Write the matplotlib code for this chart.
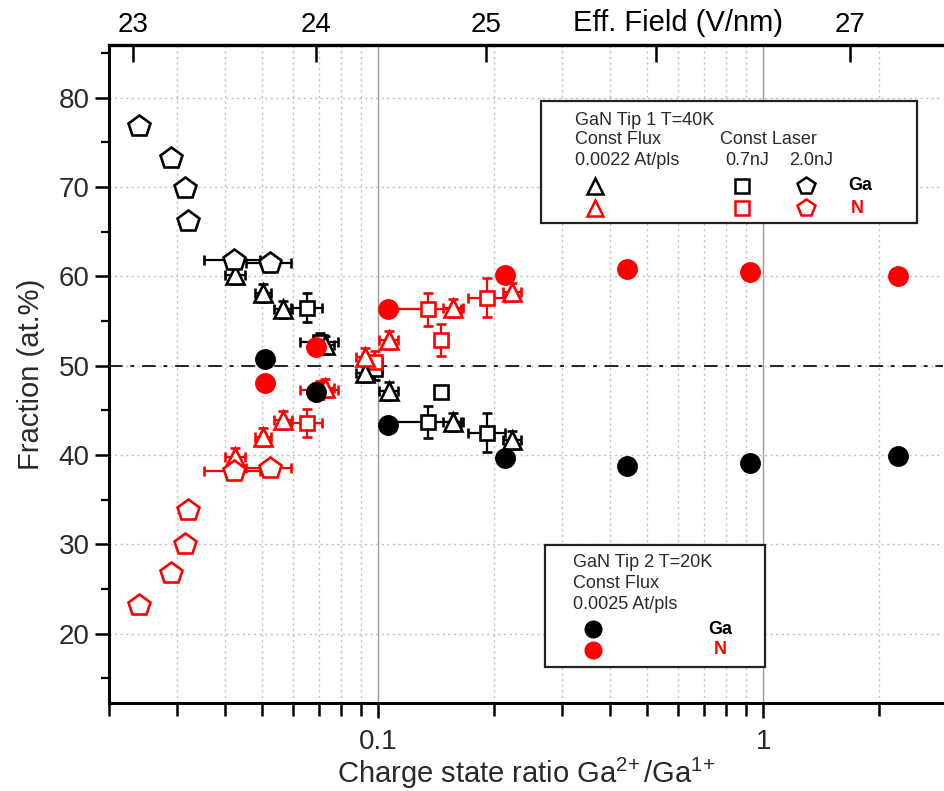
import numpy as np
import matplotlib
matplotlib.use("Agg")
import matplotlib.pyplot as plt
from matplotlib.patches import Rectangle
from matplotlib.ticker import (FixedLocator, FixedFormatter, NullFormatter,
                               NullLocator, LogLocator, MultipleLocator)

plt.rcParams['font.family'] = ['Liberation Sans', 'DejaVu Sans']
plt.rcParams['mathtext.fontset'] = 'custom'
plt.rcParams['mathtext.rm'] = 'Liberation Sans'
plt.rcParams['mathtext.it'] = 'Liberation Sans:italic'
plt.rcParams['mathtext.bf'] = 'Liberation Sans:bold'

nan = np.nan

# GaN tip 1, T = 40 K, constant flux 0.0022 At/pls (triangles)
flux_ratio = [0.0425, 0.0503, 0.0566, 0.0728, 0.0925, 0.1068, 0.1566, 0.2228]
flux_ga = [60.2, 58.1, 56.3, 52.3, 49.2, 47.2, 43.7, 41.7]
flux_n = [39.8, 42.0, 43.9, 47.5, 51.0, 52.9, 56.5, 58.3]
flux_xerr = [0.0025, 0.0025, 0.003, 0.004, 0.005, 0.006, 0.009, 0.012]
flux_yerr = [1.0, 1.0, 1.0, 1.0, 1.0, 1.0, 1.0, 1.0]

# GaN tip 1, constant laser energy 0.7 nJ (squares)
l07_ratio = [0.0654, 0.0707, 0.0982, 0.1349, 0.1458, 0.192]
l07_ga = [56.5, 52.7, 49.6, 43.7, 47.1, 42.5]
l07_n = [43.6, 47.3, 50.4, 56.3, 52.9, 57.6]
l07_xerr = [0.006, 0.008, 0.004, 0.029, nan, 0.021]
l07_ga_yerr = [1.6, 1.0, 1.2, 1.8, nan, 2.2]
l07_n_yerr = [1.6, 1.0, 1.2, 1.8, 1.8, 2.2]

# GaN tip 1, constant laser energy 2.0 nJ (pentagons)
l20_ratio = [0.0239, 0.0290, 0.0315, 0.0321, 0.0423, 0.0524]
l20_ga = [76.8, 73.2, 69.9, 66.2, 61.8, 61.5]
l20_n = [23.2, 26.8, 30.1, 33.8, 38.2, 38.5]
l20_xerr = [nan, nan, nan, nan, 0.007, 0.007]
l20_yerr = [0.6, 0.6, 0.6, 0.6, 0.6, 0.6]

# GaN tip 2, T = 20 K, constant flux 0.0025 At/pls (filled circles)
tip2_ratio = [0.0508, 0.069, 0.106, 0.214, 0.444, 0.925, 2.24]
tip2_ga = [50.8, 47.1, 43.4, 39.7, 38.8, 39.1, 39.9]
tip2_n = [48.1, 52.1, 56.3, 60.2, 60.8, 60.5, 60.0]

# effective field scale on the top axis
field_values = [23, 24, 25, 26, 27]
field_ratio = [0.0231, 0.0690, 0.1908, 0.527, 1.683]
field_labels = ['23', '24', '25', '', '27']

RED = '#ff0000'
BLK = '#000000'
TXT = '#2a2a2a'

fig = plt.figure(figsize=(9.44, 7.91), dpi=100)
ax = fig.add_axes([109 / 944, 88 / 791, 834 / 944, 658 / 791])
ax.set_xscale('log')
ax.set_xlim(0.02, 2.93)
ax.set_ylim(12.25, 85.9)

# ticks and grid
ax.xaxis.set_major_locator(FixedLocator([0.1, 1]))
ax.xaxis.set_minor_locator(LogLocator(base=10, subs=np.arange(2, 10)))
ax.xaxis.set_major_formatter(FixedFormatter(['0.1', '1']))
ax.xaxis.set_minor_formatter(NullFormatter())
ax.yaxis.set_major_locator(MultipleLocator(10))
ax.yaxis.set_minor_locator(MultipleLocator(5))
ax.grid(True, which='major', axis='x', color='#9a9a9a', lw=1.0, ls='-', zorder=0)
ax.grid(True, which='minor', axis='x', color='#c0c0c0', lw=1.0, ls=(0, (1.5, 2.5)), zorder=0)
ax.grid(True, which='major', axis='y', color='#c0c0c0', lw=1.0, ls=(0, (1.5, 2.5)), zorder=0)
ax.set_axisbelow(True)
ax.axhline(50, color='#222222', lw=1.4, ls=(0, (7, 4, 2, 4)), zorder=1)

for s in ['right', 'top']:
    ax.spines[s].set_visible(False)
ax.spines['left'].set_linewidth(2.2)
ax.spines['bottom'].set_linewidth(2.2)
ax.tick_params(axis='x', which='major', direction='out', length=11, width=1.8,
               labelsize=20, pad=8, labelcolor=TXT)
ax.tick_params(axis='x', which='minor', direction='out', length=9, width=1.8)
ax.tick_params(axis='y', which='major', direction='out', length=10, width=1.8,
               labelsize=20, pad=4, labelcolor=TXT)
ax.tick_params(axis='y', which='minor', direction='out', length=6, width=1.6)

ax.set_ylabel('Fraction (at.%)', fontsize=21, color=TXT)
ax.yaxis.set_label_coords(-0.077, 0.5)
ax.set_xlabel(r'Charge state ratio $\mathregular{Ga^{2\!+}/Ga^{1\!+}}$',
              fontsize=21, color=TXT)
ax.xaxis.set_label_coords(0.5, -0.08)

# top axis: effective field
ax2 = ax.twiny()
ax2.set_xscale('log')
ax2.set_xlim(ax.get_xlim())
ax2.xaxis.set_major_locator(FixedLocator(field_ratio))
ax2.xaxis.set_major_formatter(FixedFormatter(field_labels))
ax2.xaxis.set_minor_locator(NullLocator())
ax2.tick_params(axis='x', which='major', direction='in', length=12, width=1.8,
                labelsize=20, pad=5)
for s in ['right', 'left', 'bottom']:
    ax2.spines[s].set_visible(False)
ax2.spines['top'].set_linewidth(2.4)
ax2.text(0.682, 1.033, 'Eff. Field (V/nm)', transform=ax.transAxes,
         fontsize=21, ha='center', va='center')

eb = dict(ls='none', elinewidth=1.6, capsize=3.5, capthick=1.6, mew=1.9)

# constant laser 0.7 nJ
ax.errorbar(l07_ratio, l07_ga, xerr=l07_xerr, yerr=l07_ga_yerr, fmt='s', ms=10,
            mfc='white', mec=BLK, ecolor=BLK, zorder=3, **eb)
ax.errorbar(l07_ratio, l07_n, xerr=l07_xerr, yerr=l07_n_yerr, fmt='s', ms=10,
            mfc='white', mec=RED, ecolor=RED, zorder=3, **eb)
# constant flux
ax.errorbar(flux_ratio, flux_ga, xerr=flux_xerr, yerr=flux_yerr, fmt='^', ms=13,
            mfc='white', mec=BLK, ecolor=BLK, zorder=3, **eb)
ax.errorbar(flux_ratio, flux_n, xerr=flux_xerr, yerr=flux_yerr, fmt='^', ms=13,
            mfc='white', mec=RED, ecolor=RED, zorder=3, **eb)
# constant laser 2.0 nJ
ax.errorbar(l20_ratio, l20_ga, xerr=l20_xerr, yerr=l20_yerr, fmt='p', ms=16,
            mfc='white', mec=BLK, ecolor=BLK, zorder=3, **eb)
ax.errorbar(l20_ratio, l20_n, xerr=l20_xerr, yerr=l20_yerr, fmt='p', ms=16,
            mfc='white', mec=RED, ecolor=RED, zorder=3, **eb)
# tip 2
ax.plot(tip2_ratio, tip2_ga, 'o', ms=14, color=BLK, ls='none', zorder=4)
ax.plot(tip2_ratio, tip2_n, 'o', ms=14, color=RED, ls='none', zorder=4)

# legend box for tip 1
T = ax.transAxes
ax.add_patch(Rectangle((0.518, 0.729), 0.451, 0.186, transform=T, fc='white',
                       ec='#222222', lw=1.6, zorder=6, clip_on=False))
lt = dict(transform=T, fontsize=13, zorder=7, va='center', color=TXT)
ax.text(0.559, 0.886, 'GaN Tip 1 T=40K', **lt)
ax.text(0.559, 0.857, 'Const Flux', **lt)
ax.text(0.733, 0.857, 'Const Laser', **lt)
ax.text(0.559, 0.824, '0.0022 At/pls', **lt)
ax.text(0.739, 0.824, '0.7nJ', **lt)
ax.text(0.815, 0.824, '2.0nJ', **lt)
lm = dict(transform=T, zorder=7, clip_on=False, ls='none', mfc='white', mew=1.8)
for yy, col in [(0.786, BLK), (0.752, RED)]:
    ax.plot([0.583], [yy], marker='^', ms=12, mec=col, **lm)
    ax.plot([0.759], [yy], marker='s', ms=9.5, mec=col, **lm)
    ax.plot([0.836], [yy], marker='p', ms=13, mec=col, **lm)
ax.text(0.886, 0.786, 'Ga', transform=T, fontsize=13, fontweight='bold',
        va='center', zorder=7)
ax.text(0.889, 0.752, 'N', transform=T, fontsize=13, fontweight='bold',
        va='center', color=RED, zorder=7)

# legend box for tip 2
ax.add_patch(Rectangle((0.523, 0.055), 0.264, 0.185, transform=T, fc='white',
                       ec='#222222', lw=1.6, zorder=6, clip_on=False))
ax.text(0.556, 0.214, 'GaN Tip 2 T=20K', **lt)
ax.text(0.556, 0.182, 'Const Flux', **lt)
ax.text(0.556, 0.149, '0.0025 At/pls', **lt)
ax.plot([0.580], [0.112], marker='o', ms=12, color=BLK, transform=T, zorder=7,
        clip_on=False)
ax.plot([0.580], [0.081], marker='o', ms=12, color=RED, transform=T, zorder=7,
        clip_on=False)
ax.text(0.733, 0.112, 'Ga', transform=T, fontsize=13, fontweight='bold',
        ha='center', va='center', zorder=7)
ax.text(0.733, 0.081, 'N', transform=T, fontsize=13, fontweight='bold',
        ha='center', va='center', color=RED, zorder=7)

fig.savefig('out.png', dpi=100)
